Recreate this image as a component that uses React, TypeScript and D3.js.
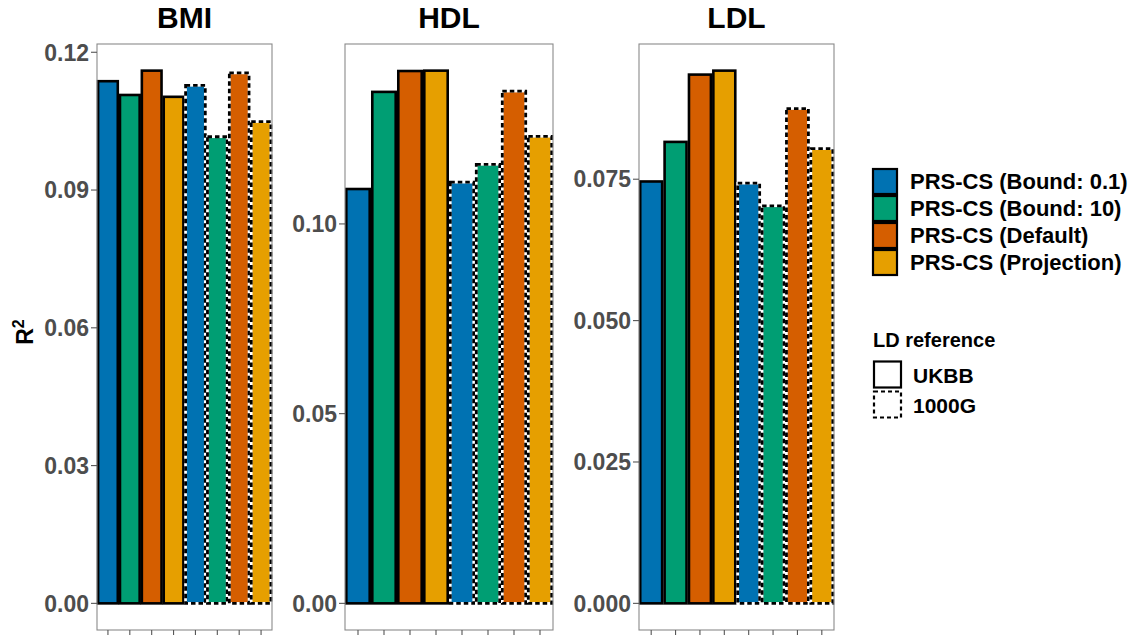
import React from 'react';
import * as d3 from 'd3';

// values
const methods = ['PRS-CS (Bound: 0.1)', 'PRS-CS (Bound: 10)', 'PRS-CS (Default)', 'PRS-CS (Projection)'];
const references = ['UKBB', '1000G'];
const traits = ['BMI', 'HDL', 'LDL'];
const methodColors = ['#0072B2', '#009E73', '#D55E00', '#E69F00'];

// order: 4 methods with UKBB, then 4 methods with 1000G
const bmiR2 = [0.1137, 0.1107, 0.116, 0.1103, 0.1128, 0.1016, 0.1155, 0.1049];
const hdlR2 = [0.1092, 0.1348, 0.1403, 0.1404, 0.111, 0.1157, 0.135, 0.1231];
const ldlR2 = [0.0746, 0.0816, 0.0935, 0.0942, 0.0743, 0.0703, 0.0875, 0.0804];

const bmiTicks = [0, 0.03, 0.06, 0.09, 0.12];
const hdlTicks = [0, 0.05, 0.1];
const ldlTicks = [0, 0.025, 0.05, 0.075];

const W = 1140;
const H = 635;
const panelTop = 44;
const panelBottom = 630;

const panels = [
  { title: traits[0], values: bmiR2, ticks: bmiTicks, fmt: d3.format('.2f'), x0: 97, x1: 272 },
  { title: traits[1], values: hdlR2, ticks: hdlTicks, fmt: d3.format('.2f'), x0: 345, x1: 553 },
  { title: traits[2], values: ldlR2, ticks: ldlTicks, fmt: d3.format('.3f'), x0: 639, x1: 834 },
];

const font = '"Liberation Sans", Arial, Helvetica, sans-serif';

const Panel = ({ p }) => {
  const cats = d3.range(p.values.length);
  const x = d3.scaleBand().domain(cats).range([p.x0, p.x1]).paddingInner(0.1).paddingOuter(0.05);
  const ymax = d3.max(p.values);
  const y = d3.scaleLinear().domain([-0.05 * ymax, ymax * 1.05]).range([panelBottom, panelTop]);

  return (
    <g>
      <rect x={p.x0} y={panelTop} width={p.x1 - p.x0} height={panelBottom - panelTop} fill="white" />
      {p.values.map((v, i) => {
        const m = i % methods.length;
        const dashed = i >= methods.length;
        const bx = x(i);
        const bw = x.bandwidth();
        const by = y(v);
        const bh = y(0) - y(v);
        return (
          <g key={i}>
            <rect x={bx} y={by} width={bw} height={bh} fill={methodColors[m]}
              stroke={dashed ? 'white' : 'black'} strokeWidth={2.6} />
            {dashed && (
              <rect x={bx} y={by} width={bw} height={bh} fill="none"
                stroke="black" strokeWidth={2.8} strokeDasharray="4.5 3" />
            )}
          </g>
        );
      })}
      <rect x={p.x0} y={panelTop} width={p.x1 - p.x0} height={panelBottom - panelTop}
        fill="none" stroke="#8a8a8a" strokeWidth={1.1} />
      {p.ticks.map((t) => (
        <g key={t} transform={`translate(${p.x0},${y(t)})`}>
          <line x1={-6} x2={0} stroke="#555" strokeWidth={1.1} />
          <text x={-8} dy="0.36em" textAnchor="end" fontFamily={font} fontWeight="bold"
            fontSize={23} fill="#4D4D4D">{p.fmt(t)}</text>
        </g>
      ))}
      {cats.map((c) => (
        <line key={c} x1={x(c) + x.bandwidth() / 2} x2={x(c) + x.bandwidth() / 2}
          y1={panelBottom} y2={panelBottom + 6} stroke="#555" strokeWidth={1.1} />
      ))}
      <text x={(p.x0 + p.x1) / 2} y={28} textAnchor="middle" fontFamily={font}
        fontWeight="bold" fontSize={30} fill="black">{p.title}</text>
    </g>
  );
};

const App = () => {
  const legendY = d3.scaleBand().domain(methods).range([168, 276]);
  const refY = d3.scaleBand().domain(references).range([360, 420]);
  return (
    <svg width={W} height={H} style={{ position: 'absolute', left: 0, top: 0, background: 'white' }}>
      <rect width={W} height={H} fill="white" />
      {panels.map((p) => <Panel key={p.title} p={p} />)}
      <text transform="translate(33,332) rotate(-90)" textAnchor="middle" fontFamily={font}
        fontWeight="bold" fontSize={23} fill="black">
        R<tspan dy="-9" fontSize={16}>2</tspan>
      </text>
      {methods.map((m, i) => (
        <g key={m}>
          <rect x={873} y={legendY(m) + 1} width={24} height={legendY.bandwidth() - 2}
            fill={methodColors[i]} stroke="black" strokeWidth={2.2} />
          <text x={910} y={legendY(m) + legendY.bandwidth() / 2} dy="0.36em" fontFamily={font}
            fontWeight="bold" fontSize={22} fill="black">{m}</text>
        </g>
      ))}
      <text x={873} y={340} dy="0.36em" fontFamily={font} fontWeight="bold" fontSize={20}
        fill="black">LD reference</text>
      {references.map((r, i) => (
        <g key={r}>
          <rect x={874} y={refY(r) + 1.5} width={27} height={refY.bandwidth() - 4}
            fill="white" stroke="black" strokeWidth={2.2} strokeDasharray={i === 1 ? '4 3' : undefined} />
          <text x={913} y={refY(r) + refY.bandwidth() / 2} dy="0.36em" fontFamily={font}
            fontWeight="bold" fontSize={21} fill="black">{r}</text>
        </g>
      ))}
    </svg>
  );
};

export default App;
